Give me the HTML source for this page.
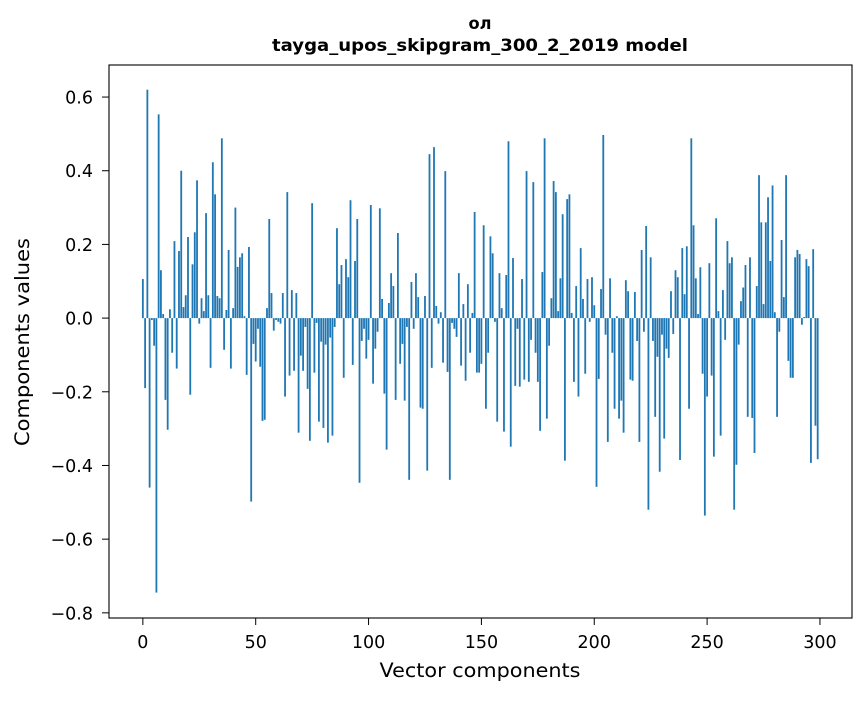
<!DOCTYPE html>
<html><head><meta charset="utf-8"><style>
body{margin:0;background:#fff}
svg text{font-family:"DejaVu Sans","Liberation Sans",sans-serif;fill:#000}
</style></head><body>
<svg id="chart" width="867" height="696" xmlns="http://www.w3.org/2000/svg">
<rect width="867" height="696" fill="#fff"/>
<text x="480" y="29" font-size="16.5" font-weight="bold" text-anchor="middle" textLength="23" lengthAdjust="spacingAndGlyphs">ол</text>
<text x="480" y="51" font-size="16.5" font-weight="bold" text-anchor="middle" textLength="416" lengthAdjust="spacingAndGlyphs">tayga_upos_skipgram_300_2_2019 model</text>
<g id="bars"></g>
<g id="axes"></g>
<rect x="109" y="65" width="743" height="553" fill="none" stroke="#000" stroke-width="1.1"/>
<text x="480" y="677" font-size="19.4" text-anchor="middle" textLength="201" lengthAdjust="spacingAndGlyphs">Vector components</text>
<text transform="translate(29,342) rotate(-90)" font-size="19.4" text-anchor="middle" textLength="208" lengthAdjust="spacingAndGlyphs">Components values</text>
</svg>
<script>
const values = [0.106,-0.19,0.62,-0.46,-0.005,-0.075,-0.745,0.553,0.13,0.011,
-0.222,-0.303,0.024,-0.094,0.209,-0.137,0.182,0.40,0.03,0.062,
0.22,-0.208,0.146,0.233,0.374,-0.015,0.054,0.019,0.285,0.062,
-0.135,0.423,0.336,0.06,0.054,0.488,-0.086,0.022,0.185,-0.137,
0.027,0.30,0.139,0.165,0.176,0.005,-0.154,0.193,-0.498,-0.07,
-0.118,-0.029,-0.132,-0.279,-0.276,0.027,0.269,0.068,-0.034,-0.005,
-0.01,-0.015,0.068,-0.213,0.342,-0.156,0.076,-0.143,0.068,-0.311,
-0.102,-0.143,-0.024,-0.192,-0.333,0.312,-0.148,-0.013,-0.281,-0.064,
-0.298,-0.072,-0.338,-0.053,-0.319,-0.024,0.244,0.092,0.144,-0.162,
0.16,0.111,0.32,-0.127,0.155,0.269,-0.447,-0.062,-0.029,-0.11,
-0.059,0.307,-0.178,-0.083,-0.037,0.298,0.052,-0.205,-0.357,0.041,
0.122,0.087,-0.222,0.231,-0.124,-0.07,-0.224,-0.024,-0.439,0.098,
-0.029,0.122,0.057,-0.243,-0.246,0.06,-0.414,0.445,-0.135,0.464,
0.033,-0.015,0.016,-0.121,0.399,-0.146,-0.439,-0.013,-0.029,-0.051,
0.122,-0.129,0.038,-0.17,0.092,-0.094,0.014,0.288,-0.148,-0.148,
-0.124,0.252,-0.246,-0.094,0.222,0.176,-0.01,-0.281,0.122,0.027,
-0.308,0.117,0.48,-0.349,0.163,-0.184,-0.029,-0.186,0.106,-0.167,
0.399,-0.173,-0.059,0.369,-0.094,-0.173,-0.306,0.125,0.488,-0.273,
-0.075,0.054,0.372,0.342,0.019,0.108,0.282,-0.387,0.323,0.336,
0.014,-0.173,0.087,-0.213,0.19,0.052,-0.151,0.106,-0.01,0.111,
0.035,-0.458,-0.165,0.079,0.497,-0.045,-0.336,0.108,-0.094,-0.246,
0.005,-0.273,-0.224,-0.311,0.103,0.073,-0.167,-0.17,0.071,-0.062,
-0.336,0.185,-0.037,0.25,-0.52,0.165,-0.062,-0.268,-0.105,-0.417,
-0.045,-0.327,-0.083,-0.108,0.073,-0.043,0.13,0.111,-0.385,0.19,
0.065,0.195,-0.246,0.488,0.252,0.108,0.011,0.138,-0.151,-0.536,
-0.213,0.149,-0.156,-0.376,0.271,0.019,-0.319,0.076,-0.059,0.209,
0.149,0.165,-0.52,-0.398,-0.072,0.046,0.083,0.144,-0.268,0.165,
-0.271,-0.366,0.087,0.388,0.26,0.038,0.26,0.328,0.155,0.36,
0.016,-0.268,-0.037,0.212,0.057,0.388,-0.116,-0.162,-0.162,0.165,
0.185,0.174,-0.018,0.003,0.16,0.141,-0.393,0.187,-0.292,-0.383];
const xTicks = [0,50,100,150,200,250,300];
const yTicks = [0.6,0.4,0.2,0.0,-0.2,-0.4,-0.6,-0.8];
const yTickLabels = ["0.6","0.4","0.2","0.0","\u22120.2","\u22120.4","\u22120.6","\u22120.8"];

const NS="http://www.w3.org/2000/svg";
const X0=109,X1=852,Y0=65,Y1=618;
const xMin=-15,xMax=314.2,yMin=-0.814,yMax=0.687;
function xs(v){return X0+(v-xMin)/(xMax-xMin)*(X1-X0);}
function ys(v){return Y1-(v-yMin)/(yMax-yMin)*(Y1-Y0);}
const bars=document.getElementById('bars');
const bw=(xs(0.8)-xs(0));
values.forEach((v,i)=>{
  const r=document.createElementNS(NS,'rect');
  const y=Math.min(ys(v),ys(0)),h=Math.abs(ys(v)-ys(0));
  r.setAttribute('x',xs(i)-bw/2);r.setAttribute('y',y);
  r.setAttribute('width',bw);r.setAttribute('height',Math.max(h,0.3));
  r.setAttribute('fill','#1f77b4');
  
  
  bars.appendChild(r);
});
const axes=document.getElementById('axes');
xTicks.forEach(t=>{
  const l=document.createElementNS(NS,'line');
  l.setAttribute('x1',xs(t));l.setAttribute('x2',xs(t));l.setAttribute('y1',Y1);l.setAttribute('y2',Y1+7);
  l.setAttribute('stroke','#000');
  
  
  axes.appendChild(l);
  const tx=document.createElementNS(NS,'text');
  tx.setAttribute('x',xs(t));tx.setAttribute('y',Y1+30);tx.setAttribute('font-size','17.5');tx.setAttribute('text-anchor','middle');
  tx.textContent=t;
  
  
  axes.appendChild(tx);
});
yTicks.forEach((t,i)=>{
  const l=document.createElementNS(NS,'line');
  l.setAttribute('x1',X0-7);l.setAttribute('x2',X0);l.setAttribute('y1',ys(t));l.setAttribute('y2',ys(t));
  l.setAttribute('stroke','#000');
  
  
  axes.appendChild(l);
  const tx=document.createElementNS(NS,'text');
  tx.setAttribute('x',X0-16);tx.setAttribute('y',ys(t)+6.5);tx.setAttribute('font-size','17.5');tx.setAttribute('text-anchor','end');
  tx.textContent=yTickLabels[i];
  
  
  axes.appendChild(tx);
});
</script>
</body></html>
